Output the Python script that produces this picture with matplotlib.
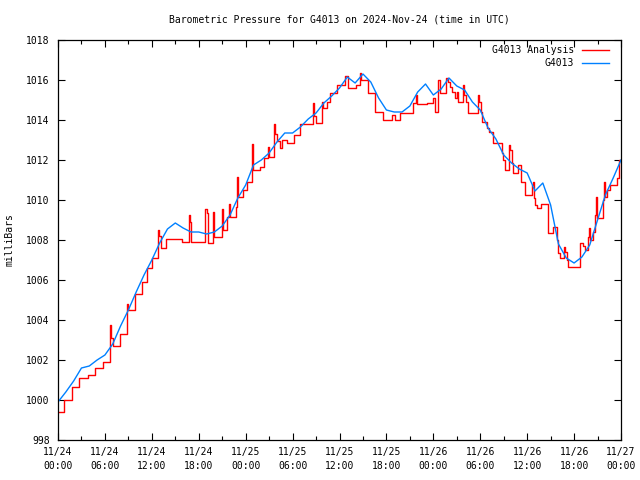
import matplotlib
matplotlib.use("Agg")
import matplotlib.pyplot as plt
from matplotlib.ticker import MultipleLocator

# G4013 (blue), hourly readings, hours since 11/24 00:00 UTC
blue_hours = list(range(0, 73))
blue_mb = [
    999.9, 1000.4, 1000.95, 1001.6, 1001.7, 1002.0, 1002.25, 1002.8, 1003.7, 1004.5,
    1005.4, 1006.25, 1007.0, 1007.85, 1008.55, 1008.85, 1008.6, 1008.4, 1008.4, 1008.3,
    1008.4, 1008.7, 1009.25, 1010.1, 1010.75, 1011.75, 1012.0, 1012.35, 1012.9, 1013.35,
    1013.35, 1013.65, 1014.05, 1014.35, 1014.85, 1015.2, 1015.6, 1016.15, 1015.85, 1016.3,
    1015.9, 1015.1, 1014.5, 1014.4, 1014.4, 1014.7, 1015.4, 1015.8, 1015.25, 1015.55,
    1016.1, 1015.7, 1015.5, 1014.9, 1014.5, 1013.6, 1013.05, 1012.25, 1011.85, 1011.55,
    1011.35, 1010.45, 1010.85, 1009.75, 1007.8, 1007.1, 1006.85, 1007.15, 1007.75, 1009.0,
    1010.25, 1011.1, 1012.0,
]

# G4013 Analysis (red), step values: time the level starts (hours) and level
red_hours = [
    0.0, 0.77, 1.75, 2.69, 3.84, 4.73, 5.75, 6.71, 6.84, 7.03,
    7.93, 8.82, 8.95, 9.91, 10.74, 11.38, 12.02, 12.79, 12.92, 13.11,
    13.81, 15.92, 16.75, 16.88, 17.07, 18.80, 19.05, 19.12, 19.82, 19.92,
    20.91, 21.04, 21.16, 21.61, 21.87, 22.0, 22.70, 22.89, 23.02, 23.66,
    24.17, 24.81, 24.94, 25.83, 26.34, 26.85, 26.98, 27.62, 27.75, 28.0,
    28.39, 28.64, 29.28, 30.18, 30.95, 32.61, 32.74, 32.99, 33.76, 33.89,
    34.40, 34.78, 35.68, 36.70, 37.08, 38.11, 38.62, 38.75, 39.64, 40.54,
    41.56, 42.71, 43.09, 43.73, 45.40, 45.78, 45.91, 47.19, 47.95, 48.21,
    48.66, 48.85, 49.62, 49.87, 50.13, 50.38, 50.77, 51.02, 51.15, 51.79,
    51.98, 52.17, 52.43, 53.71, 53.84, 54.09, 54.22, 54.86, 55.12, 55.63,
    56.78, 56.91, 57.16, 57.67, 57.80, 58.06, 58.18, 58.82, 59.21, 59.72,
    60.61, 60.74, 60.87, 61.0, 61.25, 61.77, 62.66, 63.30, 63.81, 64.0,
    64.19, 64.71, 64.83, 65.09, 65.22, 66.75, 66.82, 67.14, 67.39, 67.77,
    67.90, 68.03, 68.41, 68.67, 68.80, 68.93, 69.69, 69.82, 69.95, 70.20,
    70.59, 71.48, 71.74, 72.0,
]
red_mb = [
    999.4, 1000.0, 1000.65, 1001.1, 1001.25, 1001.6, 1001.9, 1003.75, 1003.1, 1002.7,
    1003.3, 1004.8, 1004.5, 1005.3, 1005.9, 1006.6, 1007.1, 1008.5, 1008.2, 1007.6,
    1008.05, 1007.9, 1009.25, 1008.9, 1007.9, 1009.55, 1009.35, 1007.85, 1009.4, 1008.15,
    1009.55, 1008.75, 1008.5, 1009.15, 1009.8, 1009.15, 1009.65, 1011.15, 1010.15, 1010.5,
    1010.9, 1012.8, 1011.5, 1011.65, 1012.1, 1012.65, 1012.15, 1013.8, 1013.3, 1012.95,
    1012.6, 1013.0, 1012.85, 1013.25, 1013.8, 1014.85, 1014.2, 1013.85, 1014.9, 1014.6,
    1014.9, 1015.35, 1015.75, 1016.2, 1015.6, 1015.75, 1016.35, 1016.0, 1015.35, 1014.4,
    1014.0, 1014.25, 1014.0, 1014.35, 1014.85, 1015.25, 1014.8, 1014.85, 1015.1, 1014.4,
    1016.0, 1015.35, 1016.1, 1015.9, 1015.65, 1015.4, 1015.1, 1015.4, 1014.9, 1015.75,
    1015.25, 1014.9, 1014.35, 1015.25, 1014.9, 1014.4, 1013.9, 1013.6, 1013.4, 1012.85,
    1012.35, 1012.0, 1011.5, 1012.75, 1012.5, 1011.85, 1011.35, 1011.75, 1010.9, 1010.25,
    1010.75, 1010.9, 1010.1, 1009.75, 1009.6, 1009.8, 1008.35, 1008.65, 1008.0, 1007.35,
    1007.1, 1007.65, 1007.4, 1007.0, 1006.65, 1007.15, 1007.85, 1007.7, 1007.5, 1008.15,
    1008.6, 1008.0, 1008.4, 1009.25, 1010.15, 1009.1, 1010.0, 1010.9, 1010.15, 1010.5,
    1010.75, 1011.1, 1012.0, 1012.0,
]

tick_hours = list(range(0, 73, 6))
tick_labels = [
    "11/24\n00:00", "11/24\n06:00", "11/24\n12:00", "11/24\n18:00",
    "11/25\n00:00", "11/25\n06:00", "11/25\n12:00", "11/25\n18:00",
    "11/26\n00:00", "11/26\n06:00", "11/26\n12:00", "11/26\n18:00",
    "11/27\n00:00",
]

plt.rcParams["font.family"] = ["DejaVu Sans Mono"]
plt.rcParams["font.size"] = 7

fig = plt.figure(figsize=(6.4, 4.8), dpi=100)
ax = fig.add_axes([58 / 640, 40 / 480, 563 / 640, 400 / 480])

ax.plot(red_hours, red_mb, color="#ff0000", lw=1.0, drawstyle="steps-post",
        label="G4013 Analysis")
ax.plot(blue_hours, blue_mb, color="#0080ff", lw=1.0, label="G4013")

ax.set_xlim(0, 72)
ax.set_ylim(998, 1018)
ax.set_xticks(tick_hours)
ax.set_xticklabels(tick_labels, linespacing=1.5)
ax.xaxis.set_minor_locator(MultipleLocator(3))
ax.yaxis.set_major_locator(MultipleLocator(2))

ax.tick_params(which="major", direction="in", top=True, right=True,
               length=5, width=0.8, pad=5)
ax.tick_params(which="minor", direction="in", top=True, right=True,
               length=3, width=0.8)
ax.tick_params(axis="y", pad=6)
for s in ax.spines.values():
    s.set_linewidth(0.9)

ax.legend(loc="upper right", bbox_to_anchor=(1 - 10 / 563, 1 - 3 / 400),
          frameon=False, markerfirst=False,
          handlelength=2.8, handletextpad=0.8, labelspacing=0.35,
          borderaxespad=0, borderpad=0.2)

fig.text(0.5 * (58 + 621) / 640, 1 - 20 / 480,
         "Barometric Pressure for G4013 on 2024-Nov-24 (time in UTC)",
         ha="center", va="center")
fig.text(10 / 640, 0.5, "milliBars", rotation=90, ha="center", va="center")

fig.savefig("out.png", dpi=100)
